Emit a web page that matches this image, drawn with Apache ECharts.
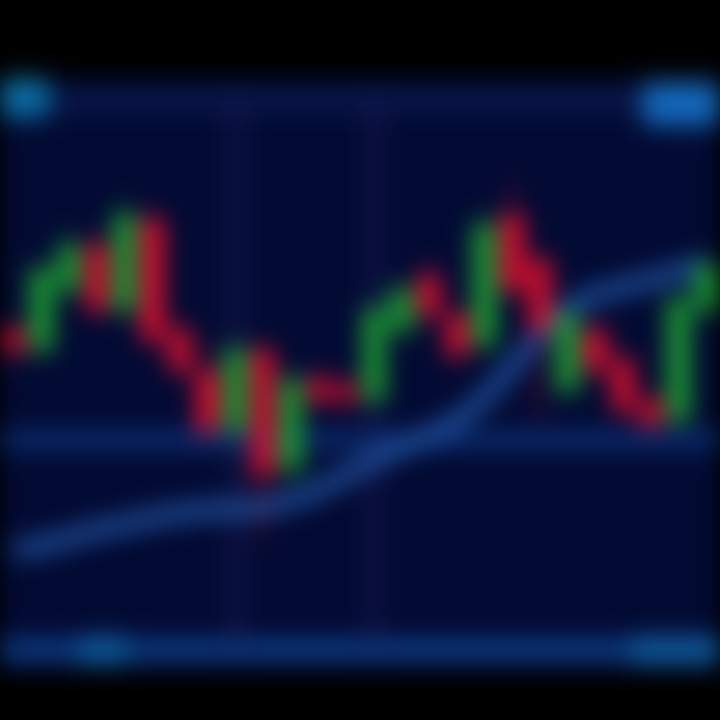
<!DOCTYPE html>
<html>
<head>
<meta charset="utf-8">
<script src="https://cdn.jsdelivr.net/npm/echarts@6/dist/echarts.min.js"></script>
<style>
html,body{margin:0;padding:0;background:#000;width:720px;height:720px;overflow:hidden;}
#wrap{position:absolute;left:0;top:0;width:720px;height:720px;filter:blur(12px);}
#chart{position:absolute;left:0;top:78px;width:720px;height:592px;}
</style>
</head>
<body>
<div id="wrap"><div id="chart"></div></div>
<script>
// Categories (time slots)
const categories = ['1','2','3','4','5','6','7','8','9','10','11','12','13','14','15','16','17','18','19','20','21','22','23','24','25','26'];
// Candle values: open, close, low, high
const opens  = [64, 60, 72, 81, 68, 86, 64, 56, 44, 60, 36, 54, 53, 50, 64, 75, 67, 61, 87, 78, 52, 64, 58, 50, 46, 68];
const closes = [60, 76, 81, 68, 87, 62, 56, 44, 60, 35, 54, 50, 50, 68, 72, 67, 59, 85, 72, 64, 67, 56, 48, 45, 70, 77];
const lows   = [57, 58, 70, 66, 66, 60, 54, 42, 42, 22, 34, 49, 48, 48, 62, 65, 57, 59, 70, 46, 50, 54, 46, 44, 44, 66];
const highs  = [66, 78, 84, 83, 90, 89, 66, 62, 62, 62, 56, 57, 55, 70, 74, 77, 69, 88, 94, 80, 69, 66, 60, 52, 72, 79];
// Moving average line
const maValues = [19.8, 21, 22.4, 24, 25.2, 26.4, 27.4, 28, 28.2, 28.6, 30, 32, 35, 38, 40.4, 43, 46, 50.6, 56.6, 63, 68, 71, 72.6, 74, 75.6, 77];
// Reference levels
const levelLines = [42, 110];
const markCategories = ['9', '14'];

const candleData = opens.map((o, i) => [o, closes[i], lows[i], highs[i]]);

const chart = echarts.init(document.getElementById('chart'), null, {renderer: 'canvas'});
chart.setOption({
  backgroundColor: '#020a33',
  animation: false,
  grid: {left: 0, right: 0, top: 22, bottom: 20},
  xAxis: {
    type: 'category',
    data: categories,
    boundaryGap: true,
    axisLine: {show: true, lineStyle: {color: '#0c3c84', width: 22}},
    axisTick: {show: false},
    axisLabel: {show: false},
    splitLine: {show: false}
  },
  yAxis: {
    type: 'value',
    min: 0,
    max: 110,
    axisLine: {show: false},
    axisTick: {show: false},
    axisLabel: {show: false},
    splitLine: {show: false}
  },
  graphic: [
    {type: 'rect', left: 0, top: 0, shape: {width: 50, height: 40, r: 10}, style: {fill: '#0b6aa0'}, z: 10},
    {type: 'rect', right: 0, top: 4, shape: {width: 78, height: 44, r: 10}, style: {fill: '#1466b8'}, z: 10},
    {type: 'rect', left: 78, bottom: 6, shape: {width: 50, height: 28, r: 8}, style: {fill: '#0e5a9a'}, z: 10},
    {type: 'rect', right: 0, bottom: 6, shape: {width: 90, height: 28, r: 8}, style: {fill: '#0e5a9a'}, z: 10}
  ],
  series: [
    {
      type: 'line',
      data: [],
      z: 1,
      markLine: {
        z: 1,
        symbol: 'none',
        silent: true,
        label: {show: false},
        data: [
          {yAxis: levelLines[0], lineStyle: {color: '#0b2d72', width: 18, type: 'solid'}},
          {yAxis: levelLines[1], lineStyle: {color: '#091649', width: 26, type: 'solid'}},
          {xAxis: markCategories[0], lineStyle: {color: '#2a2266', width: 10, type: 'solid', opacity: 0.55}},
          {xAxis: markCategories[1], lineStyle: {color: '#2a2266', width: 10, type: 'solid', opacity: 0.55}}
        ]
      }
    },
    {
      type: 'line',
      data: maValues,
      smooth: true,
      showSymbol: false,
      lineStyle: {color: '#2052a0', width: 16},
      z: 2
    },
    {
      type: 'candlestick',
      data: candleData,
      barWidth: '72%',
      itemStyle: {
        color: '#1fa533',
        color0: '#e80f2e',
        borderColor: '#1fa533',
        borderColor0: '#e80f2e',
        borderWidth: 2
      },
      z: 3
    }
  ]
});
</script>
</body>
</html>
